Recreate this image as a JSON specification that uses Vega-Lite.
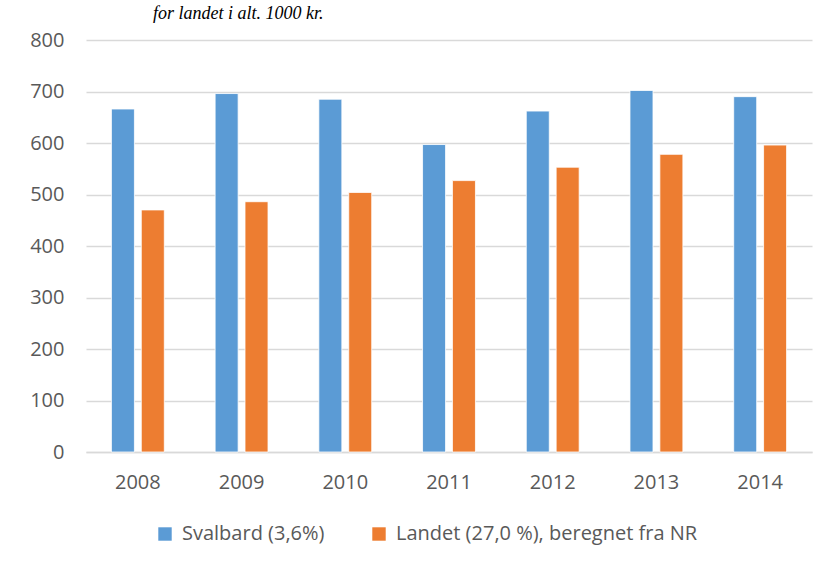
{
  "$schema": "https://vega.github.io/schema/vega-lite/v6.json",
  "autosize": {"type": "none"},
  "width": 726,
  "height": 412,
  "padding": {"left": 86, "top": 40, "right": 17, "bottom": 114},
  "background": "white",
  "title": {
    "text": "for landet i alt. 1000 kr.",
    "font": "Liberation Serif",
    "fontStyle": "italic",
    "fontWeight": "normal",
    "fontSize": 18,
    "color": "#000000",
    "anchor": "start",
    "frame": "group",
    "baseline": "alphabetic",
    "dx": 67,
    "dy": 7,
    "offset": 0
  },
  "data": {
    "values": [
      {"year": "2008", "series": "Svalbard (3,6%)", "value": 666},
      {"year": "2008", "series": "Landet (27,0 %), beregnet fra NR", "value": 470},
      {"year": "2009", "series": "Svalbard (3,6%)", "value": 696},
      {"year": "2009", "series": "Landet (27,0 %), beregnet fra NR", "value": 486},
      {"year": "2010", "series": "Svalbard (3,6%)", "value": 685},
      {"year": "2010", "series": "Landet (27,0 %), beregnet fra NR", "value": 504},
      {"year": "2011", "series": "Svalbard (3,6%)", "value": 597},
      {"year": "2011", "series": "Landet (27,0 %), beregnet fra NR", "value": 527},
      {"year": "2012", "series": "Svalbard (3,6%)", "value": 662},
      {"year": "2012", "series": "Landet (27,0 %), beregnet fra NR", "value": 553},
      {"year": "2013", "series": "Svalbard (3,6%)", "value": 702},
      {"year": "2013", "series": "Landet (27,0 %), beregnet fra NR", "value": 578},
      {"year": "2014", "series": "Svalbard (3,6%)", "value": 690},
      {"year": "2014", "series": "Landet (27,0 %), beregnet fra NR", "value": 596}
    ]
  },
  "mark": {"type": "bar", "stroke": "white", "strokeWidth": 0.8},
  "encoding": {
    "x": {
      "field": "year",
      "type": "nominal",
      "title": null,
      "scale": {"paddingInner": 0.49, "paddingOuter": 0.245},
      "axis": {
        "labelAngle": 0,
        "labelFont": "Open Sans",
        "labelFontSize": 20,
        "labelColor": "#595959",
        "labelPadding": 20,
        "ticks": false,
        "domain": true,
        "domainColor": "#d9d9d9",
        "domainWidth": 1.5,
        "grid": false
      }
    },
    "xOffset": {
      "field": "series",
      "type": "nominal",
      "sort": ["Svalbard (3,6%)", "Landet (27,0 %), beregnet fra NR"],
      "scale": {"paddingInner": 0.23, "paddingOuter": 0}
    },
    "y": {
      "field": "value",
      "type": "quantitative",
      "title": null,
      "scale": {"domain": [0, 800], "nice": false},
      "axis": {
        "values": [0, 100, 200, 300, 400, 500, 600, 700, 800],
        "labelFont": "Open Sans",
        "labelFontSize": 20,
        "labelColor": "#595959",
        "labelPadding": 22,
        "ticks": false,
        "domain": false,
        "grid": true,
        "gridColor": "#d9d9d9",
        "gridWidth": 1.5
      }
    },
    "color": {
      "field": "series",
      "type": "nominal",
      "sort": ["Svalbard (3,6%)", "Landet (27,0 %), beregnet fra NR"],
      "scale": {"range": ["#5B9BD5", "#ED7D31"]},
      "legend": {
        "title": null,
        "orient": "none",
        "legendX": 69,
        "legendY": 484,
        "direction": "horizontal",
        "symbolType": "square",
        "symbolSize": 180,
        "symbolStrokeWidth": 0,
        "labelFont": "Open Sans",
        "labelFontSize": 20,
        "labelColor": "#595959",
        "labelOffset": 7,
        "columnPadding": 44,
        "labelLimit": 500
      }
    }
  },
  "config": {"view": {"stroke": null}}
}
